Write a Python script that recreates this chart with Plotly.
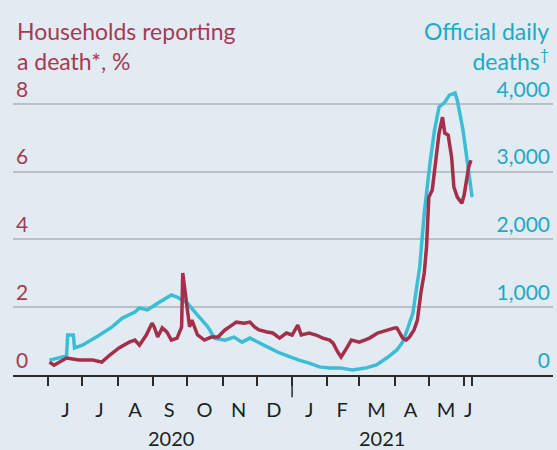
import plotly.graph_objects as go

BG_COLOR = "#e1ebf1"
RED = "#a52f4b"
RED_TEXT = "#a63a55"
CYAN = "#3bbdd5"
CYAN_TEXT = "#1ea9c6"
GRID_COLOR = "#b9c1c6"
AXIS_COLOR = "#2b2b2b"
FONT = "Lato"

# Households reporting a death, %
households_dates = [
    "2020-06-02", "2020-06-06", "2020-06-17", "2020-06-28", "2020-07-10",
    "2020-07-18", "2020-07-25", "2020-08-02", "2020-08-11", "2020-08-16",
    "2020-08-20", "2020-08-26", "2020-08-31", "2020-09-02", "2020-09-05",
    "2020-09-09", "2020-09-13", "2020-09-17", "2020-09-22", "2020-09-26",
    "2020-09-27", "2020-09-30", "2020-10-03", "2020-10-05", "2020-10-10",
    "2020-10-16", "2020-10-22", "2020-10-28", "2020-11-03", "2020-11-07",
    "2020-11-13", "2020-11-20", "2020-11-25", "2020-11-29", "2020-12-03",
    "2020-12-10", "2020-12-15", "2020-12-21", "2020-12-27", "2021-01-01",
    "2021-01-06", "2021-01-09", "2021-01-16", "2021-01-22", "2021-01-28",
    "2021-02-03", "2021-02-06", "2021-02-10", "2021-02-13", "2021-02-18",
    "2021-02-22", "2021-03-01", "2021-03-10", "2021-03-17", "2021-03-25",
    "2021-04-01", "2021-04-03", "2021-04-08", "2021-04-11", "2021-04-14",
    "2021-04-18", "2021-04-21", "2021-04-24", "2021-04-27", "2021-04-29",
    "2021-05-01", "2021-05-04", "2021-05-08", "2021-05-10", "2021-05-13",
    "2021-05-15", "2021-05-18", "2021-05-21", "2021-05-23", "2021-05-26",
    "2021-05-30", "2021-06-01", "2021-06-05", "2021-06-07",
]
households_pct = [
    0.38, 0.29, 0.50, 0.44, 0.44,
    0.38, 0.59, 0.80, 0.97, 1.03,
    0.88, 1.18, 1.53, 1.42, 1.12,
    1.39, 1.27, 1.03, 1.09, 1.42,
    3.01, 2.21, 1.42, 1.62, 1.18,
    1.03, 1.12, 1.12, 1.33, 1.42,
    1.56, 1.53, 1.56, 1.42, 1.33,
    1.27, 1.24, 1.09, 1.24, 1.18,
    1.47, 1.18, 1.24, 1.18, 1.09,
    1.03, 0.94, 0.68, 0.53, 0.80,
    1.03, 0.97, 1.09, 1.24, 1.33,
    1.39, 1.39, 1.09, 1.03, 1.12,
    1.33, 1.62, 2.42, 3.01, 3.78,
    5.25, 5.46, 6.55, 7.14, 7.61,
    7.14, 7.08, 6.43, 5.55, 5.25,
    5.07, 5.31, 6.14, 6.34,
]

# Official daily deaths
deaths_dates = [
    "2020-06-02", "2020-06-15", "2020-06-17", "2020-06-18", "2020-06-23",
    "2020-06-24", "2020-07-01", "2020-07-16", "2020-07-27", "2020-08-05",
    "2020-08-16", "2020-08-20", "2020-08-27", "2020-09-05", "2020-09-17",
    "2020-09-22", "2020-10-01", "2020-10-10", "2020-10-19", "2020-10-25",
    "2020-11-03", "2020-11-11", "2020-11-18", "2020-11-25", "2020-12-03",
    "2020-12-12", "2020-12-21", "2020-12-30", "2021-01-07", "2021-01-16",
    "2021-01-25", "2021-02-03", "2021-02-12", "2021-02-23", "2021-03-07",
    "2021-03-16", "2021-03-25", "2021-04-03", "2021-04-08", "2021-04-12",
    "2021-04-17", "2021-04-23", "2021-04-27", "2021-05-02", "2021-05-06",
    "2021-05-10", "2021-05-15", "2021-05-19", "2021-05-24", "2021-05-26",
    "2021-05-31", "2021-06-04", "2021-06-08",
]
deaths_daily = [
    220, 280, 280, 590, 590,
    400, 440, 590, 710, 840,
    930, 990, 960, 1060, 1180,
    1150, 1060, 885, 710, 545,
    515, 560, 485, 545, 470,
    400, 325, 265, 220, 175,
    120, 105, 105, 75, 105,
    150, 250, 370, 485, 665,
    915, 1595, 2390, 3125, 3615,
    3955, 4025, 4130, 4160, 4055,
    3615, 3125, 2625,
]

month_starts = [
    "2020-06-01", "2020-07-01", "2020-08-01", "2020-09-01", "2020-10-01",
    "2020-11-01", "2020-12-01", "2021-01-01", "2021-02-01", "2021-03-01",
    "2021-04-01", "2021-05-01", "2021-06-01", "2021-06-08",
]
month_mids = [
    "2020-06-16", "2020-07-16", "2020-08-16", "2020-09-15", "2020-10-16",
    "2020-11-15", "2020-12-16", "2021-01-16", "2021-02-14", "2021-03-16",
    "2021-04-15", "2021-05-16", "2021-06-04 12:00",
]
month_letters = ["J", "J", "A", "S", "O", "N", "D", "J", "F", "M", "A", "M", "J"]

pct_ticks = [0, 2, 4, 6, 8]
deaths_ticks = [0, 1000, 2000, 3000, 4000]

years = ["2020", "2021"]
year_centres = ["2020-09-17", "2021-03-21"]

fig = go.Figure()

fig.add_trace(
    go.Scatter(
        x=deaths_dates,
        y=deaths_daily,
        mode="lines",
        line_color=CYAN,
        line_width=3.5,
        yaxis="y",
        hoverinfo="skip",
    )
)
fig.add_trace(
    go.Scatter(
        x=households_dates,
        y=households_pct,
        mode="lines",
        line_color=RED,
        line_width=3.5,
        yaxis="y2",
        hoverinfo="skip",
    )
)

fig.update_layout(
    width=557,
    height=450,
    margin=dict(l=13, r=4, t=66, b=75),
    plot_bgcolor=BG_COLOR,
    paper_bgcolor=BG_COLOR,
    font_family=FONT,
    showlegend=False,
    xaxis=dict(
        type="date",
        range=["2020-05-01", "2021-08-18"],
        tickvals=month_mids,
        ticktext=month_letters,
        ticks="",
        tickfont=dict(size=20, color="#1e1e1e"),
        ticklabelstandoff=16,
        showline=True,
        linecolor=AXIS_COLOR,
        linewidth=2,
        showgrid=False,
        zeroline=False,
        minor=dict(
            tickvals=month_starts,
            ticks="outside",
            ticklen=9,
            tickwidth=1.5,
            tickcolor=AXIS_COLOR,
            showgrid=False,
        ),
    ),
    yaxis=dict(
        side="right",
        range=[0, 4560],
        tickvals=deaths_ticks,
        ticktext=[f"{v:,}" for v in deaths_ticks],
        ticklabelposition="inside top",
        tickfont=dict(size=21, color=CYAN_TEXT),
        ticks="",
        showgrid=True,
        gridcolor=GRID_COLOR,
        gridwidth=1.5,
        zeroline=False,
    ),
    yaxis2=dict(
        overlaying="y",
        side="left",
        range=[0, 9.12],
        tickvals=pct_ticks,
        ticktext=[str(v) for v in pct_ticks],
        ticklabelposition="inside top",
        tickfont=dict(size=21, color=RED_TEXT),
        ticks="",
        showgrid=False,
        zeroline=False,
    ),
)

# longer tick at the turn of the year
fig.add_shape(
    type="line",
    xref="x",
    yref="paper",
    x0="2021-01-01",
    x1="2021-01-01",
    y0=0,
    y1=-0.072,
    line=dict(color=AXIS_COLOR, width=1.5),
)

for year, centre in zip(years, year_centres):
    fig.add_annotation(
        x=centre,
        xref="x",
        y=-0.205,
        yref="paper",
        text=year,
        showarrow=False,
        font=dict(size=20, color="#1e1e1e"),
        yanchor="middle",
    )

fig.add_annotation(
    x=0.003,
    xref="paper",
    y=1.165,
    yref="paper",
    text="Households reporting<br>a death*, %",
    showarrow=False,
    xanchor="left",
    yanchor="top",
    align="left",
    font=dict(size=23, color=RED_TEXT),
)
fig.add_annotation(
    x=0.996,
    xref="paper",
    y=1.165,
    yref="paper",
    text="Official daily<br>deaths<sup>†</sup>",
    showarrow=False,
    xanchor="right",
    yanchor="top",
    align="right",
    font=dict(size=23, color=CYAN_TEXT),
)

fig.write_html(
    "out.html",
    config={"displayModeBar": False},
    post_script="document.body.style.margin='0';",
)
